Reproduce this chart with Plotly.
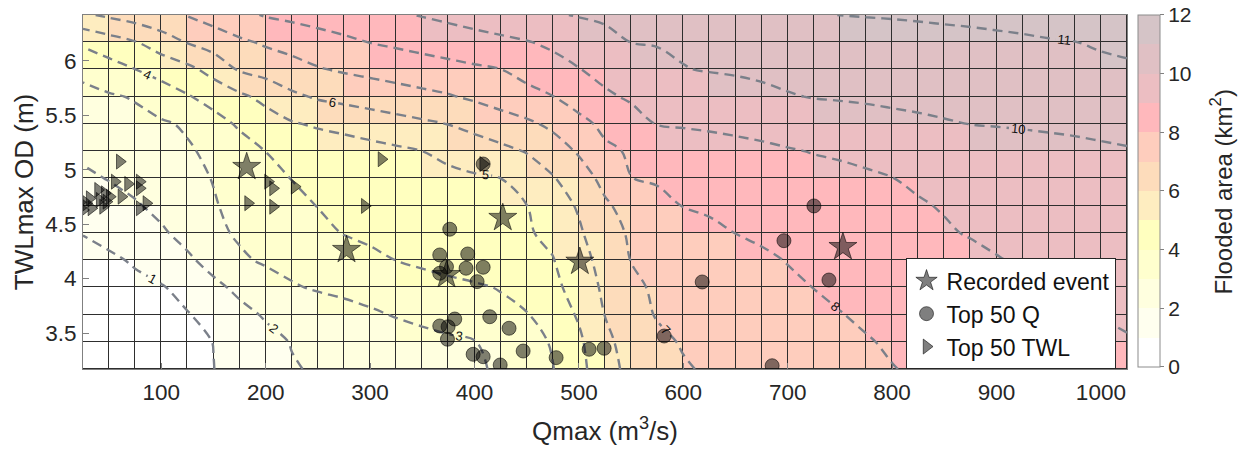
import plotly.graph_objects as go

# ---------------- data ----------------
# grid nodes (Qmax, m3/s) and (TWLmax OD, m)
q_grid = [25, 50, 75, 100, 125, 150, 175, 200, 225, 250, 275, 300, 325, 350, 375,
          400, 425, 450, 475, 500, 525, 550, 575, 600, 625, 650, 675, 700, 725, 750,
          775, 800, 825, 850, 875, 900, 925, 950, 975, 1000, 1025]
twl_grid = [3.17, 3.42, 3.67, 3.92, 4.17, 4.42, 4.67, 4.92, 5.17, 5.42, 5.67, 5.92, 6.17, 6.42]

# flooded area (km2) at the grid nodes, one list per TWL row (bottom -> top)
area_r00 = [0.15, 0.32, 0.48, 0.65, 0.82, 0.99, 1.29, 1.61, 1.93, 2.10, 2.24, 2.37, 2.50, 2.63, 2.77, 2.90, 3.10, 3.53, 3.97, 4.69, 5.67, 6.24, 6.58, 6.92, 7.10, 7.22, 7.35, 7.47, 7.60, 7.73, 7.85, 7.98, 8.07, 8.16, 8.25, 8.34, 8.43, 8.52, 8.61, 8.70, 8.79]
area_r01 = [0.20, 0.36, 0.52, 0.68, 0.84, 1.01, 1.38, 1.75, 2.04, 2.18, 2.31, 2.44, 2.57, 2.71, 2.84, 2.97, 3.30, 3.67, 4.08, 4.83, 5.80, 6.36, 6.81, 7.07, 7.20, 7.33, 7.45, 7.58, 7.71, 7.84, 7.96, 8.07, 8.17, 8.27, 8.36, 8.46, 8.56, 8.66, 8.76, 8.85, 8.95]
area_r02 = [0.25, 0.42, 0.60, 0.77, 0.95, 1.31, 1.75, 2.09, 2.28, 2.48, 2.67, 2.87, 3.06, 3.23, 3.41, 3.59, 3.77, 3.95, 4.45, 5.11, 6.02, 6.66, 7.06, 7.19, 7.32, 7.46, 7.59, 7.72, 7.85, 7.98, 8.09, 8.19, 8.30, 8.40, 8.51, 8.61, 8.71, 8.82, 8.92, 9.02, 9.10]
area_r03 = [0.35, 0.54, 0.74, 0.93, 1.31, 1.79, 2.20, 2.56, 2.91, 3.10, 3.23, 3.36, 3.49, 3.63, 3.76, 3.89, 4.05, 4.42, 4.78, 5.36, 6.20, 6.85, 7.11, 7.26, 7.41, 7.56, 7.71, 7.86, 8.01, 8.11, 8.22, 8.34, 8.45, 8.56, 8.67, 8.78, 8.89, 9.01, 9.08, 9.17, 9.25]
area_r04 = [0.55, 0.82, 1.12, 1.49, 1.85, 2.32, 2.85, 3.13, 3.30, 3.48, 3.65, 3.83, 4.01, 4.17, 4.33, 4.48, 4.64, 4.80, 4.96, 5.62, 6.37, 7.02, 7.19, 7.36, 7.53, 7.70, 7.87, 8.03, 8.15, 8.26, 8.38, 8.50, 8.62, 8.73, 8.85, 8.97, 9.06, 9.15, 9.23, 9.32, 9.40]
area_r05 = [1.05, 1.33, 1.61, 1.88, 2.29, 2.78, 3.13, 3.36, 3.59, 3.82, 4.03, 4.16, 4.28, 4.41, 4.53, 4.66, 4.79, 4.91, 5.21, 5.87, 6.62, 7.12, 7.35, 7.57, 7.80, 8.01, 8.13, 8.25, 8.36, 8.48, 8.59, 8.71, 8.82, 8.94, 9.04, 9.12, 9.21, 9.29, 9.37, 9.46, 9.54]
area_r06 = [1.43, 1.67, 1.91, 2.23, 2.58, 2.94, 3.23, 3.50, 3.77, 4.02, 4.14, 4.26, 4.38, 4.50, 4.63, 4.75, 4.87, 4.99, 5.51, 6.11, 6.87, 7.34, 7.73, 8.03, 8.14, 8.24, 8.34, 8.44, 8.54, 8.64, 8.74, 8.85, 8.95, 9.04, 9.14, 9.23, 9.32, 9.41, 9.51, 9.60, 9.69]
area_r07 = [1.83, 2.04, 2.28, 2.53, 2.78, 3.03, 3.37, 3.71, 4.02, 4.14, 4.26, 4.39, 4.51, 4.63, 4.75, 4.88, 5.00, 5.46, 5.92, 6.57, 7.26, 7.99, 8.10, 8.20, 8.30, 8.40, 8.50, 8.59, 8.69, 8.79, 8.89, 8.99, 9.09, 9.18, 9.28, 9.37, 9.46, 9.56, 9.65, 9.75, 9.84]
area_r08 = [2.18, 2.36, 2.54, 2.72, 2.90, 3.19, 3.60, 4.01, 4.17, 4.34, 4.50, 4.67, 4.83, 5.00, 5.26, 5.51, 5.77, 6.05, 6.56, 7.10, 7.82, 8.10, 8.24, 8.38, 8.51, 8.65, 8.79, 8.93, 9.04, 9.11, 9.19, 9.26, 9.34, 9.41, 9.49, 9.57, 9.64, 9.72, 9.79, 9.87, 9.94]
area_r09 = [2.48, 2.62, 2.75, 2.89, 3.11, 3.64, 4.13, 4.52, 4.91, 5.14, 5.31, 5.49, 5.66, 5.84, 6.02, 6.29, 6.56, 6.83, 7.19, 7.72, 8.22, 8.69, 9.03, 9.11, 9.19, 9.28, 9.36, 9.44, 9.53, 9.61, 9.69, 9.78, 9.86, 9.94, 10.01, 10.05, 10.09, 10.13, 10.17, 10.22, 10.26]
area_r10 = [2.78, 2.90, 3.07, 3.50, 3.92, 4.36, 4.79, 5.28, 5.81, 6.11, 6.27, 6.43, 6.60, 6.76, 6.92, 7.15, 7.42, 7.70, 7.98, 8.43, 8.88, 9.10, 9.25, 9.39, 9.53, 9.67, 9.81, 9.95, 10.03, 10.07, 10.11, 10.16, 10.20, 10.24, 10.29, 10.33, 10.38, 10.42, 10.46, 10.51, 10.55]
area_r11 = [3.20, 3.60, 3.99, 4.37, 4.75, 5.34, 6.10, 6.37, 6.65, 6.93, 7.11, 7.26, 7.40, 7.55, 7.70, 7.85, 7.99, 8.32, 8.64, 8.97, 9.23, 9.47, 9.72, 9.97, 10.05, 10.10, 10.16, 10.21, 10.26, 10.32, 10.37, 10.43, 10.48, 10.54, 10.59, 10.64, 10.70, 10.75, 10.81, 10.86, 10.91]
area_r12 = [4.18, 4.57, 4.95, 5.50, 6.05, 6.44, 6.83, 7.13, 7.35, 7.58, 7.80, 8.02, 8.17, 8.33, 8.48, 8.64, 8.79, 8.95, 9.18, 9.46, 9.73, 10.01, 10.06, 10.12, 10.18, 10.24, 10.30, 10.36, 10.42, 10.48, 10.54, 10.60, 10.65, 10.71, 10.77, 10.83, 10.89, 10.95, 10.99, 11.07, 11.13]
area_r13 = [5.85, 6.16, 6.45, 6.74, 7.04, 7.41, 7.78, 8.07, 8.23, 8.40, 8.56, 8.72, 8.88, 9.05, 9.22, 9.40, 9.57, 9.75, 9.92, 10.05, 10.15, 10.24, 10.34, 10.43, 10.53, 10.62, 10.72, 10.81, 10.91, 11.01, 11.04, 11.07, 11.11, 11.15, 11.18, 11.22, 11.25, 11.29, 11.33, 11.36, 11.40]

area_nodes = [area_r00, area_r01, area_r02, area_r03, area_r04, area_r05, area_r06,
              area_r07, area_r08, area_r09, area_r10, area_r11, area_r12, area_r13]

# recorded events (stars)
rec_q = [181.8, 427.1, 277.4, 500.9, 373.2, 752.9]
rec_twl = [5.025, 4.557, 4.263, 4.155, 4.033, 4.29]

# top 50 Q events (circles)
topq_q = [408.3, 376.3, 366.7, 393.5, 373.2, 366.7, 391.9, 408.3, 402.5, 414.6,
          381.1, 366.7, 374.7, 374.1, 433.1, 398.7, 408.3, 424.6, 446.6, 478.2,
          509.8, 524.2, 581.7, 618.1, 685.1, 696.4, 739.5, 725.1]
topq_twl = [5.052, 4.453, 4.217, 4.226, 4.109, 4.049, 4.095, 4.104, 3.972, 3.65,
            3.629, 3.565, 3.558, 3.443, 3.544, 3.305, 3.283, 3.207, 3.335, 3.274,
            3.351, 3.36, 3.473, 3.969, 3.2, 4.348, 3.987, 4.667]

# top 50 TWL events (triangles)
toptwl_q = [60.2, 55.4, 68.1, 79.3, 79.3, 61.8, 85.7, 79.3, 39.4, 45.8, 50.6, 31.4,
            41.0, 28.3, 44.2, 33.0, 25.0, 47.4, 22.0, 183.1, 207.0, 202.2, 207.0,
            227.7, 310.9, 294.9, 408.3]
toptwl_twl = [5.074, 4.89, 4.869, 4.89, 4.829, 4.752, 4.692, 4.646, 4.814, 4.783,
              4.752, 4.737, 4.722, 4.692, 4.66, 4.646, 4.63, 4.706, 4.70, 4.692,
              4.66, 4.89, 4.829, 4.844, 5.096, 4.667, 5.052]

cbar_ticks = [0, 2, 4, 6, 8, 10, 12]
x_ticks = [100, 200, 300, 400, 500, 600, 700, 800, 900, 1000]
y_ticks = [3.5, 4, 4.5, 5, 5.5, 6]

# ---------------- styling ----------------
level_colors = ["#FFFFFF", "#FFFFEF", "#FFFFDF", "#FFFFCE", "#FFFFBF", "#FEEDC0",
                "#FDDCBB", "#FECDBD", "#FFB8BC", "#ECBEC2", "#E0C0C4", "#D5C4C7"]
colorscale = []
for k, c in enumerate(level_colors):
    colorscale.append([k / 12, c])
    colorscale.append([(k + 1) / 12, c])

# each cell takes the value of its upper-left node
area_cells = [row[:-1] for row in area_nodes[1:]]

FONT = "Liberation Sans, Arial, Helvetica, sans-serif"
TXT = "#262626"
AX = "#808080"

fig = go.Figure()

fig.add_trace(go.Heatmap(
    x=q_grid, y=twl_grid, z=area_cells, zmin=0, zmax=12,
    colorscale=colorscale, xgap=1, ygap=1, hoverinfo="skip",
    showscale=True,
    colorbar=dict(
        x=1.0105, xanchor="left", xpad=0, thickness=22, thicknessmode="pixels",
        lenmode="pixels", len=352, y=0.503, yanchor="middle", ypad=0,
        tickvals=cbar_ticks, ticks="outside", ticklen=4, tickcolor=AX,
        outlinecolor="#8c8c8c", outlinewidth=1,
        tickfont=dict(size=21, color=TXT, family=FONT),
    ),
))

fig.add_trace(go.Contour(
    x=q_grid, y=twl_grid, z=area_nodes, showscale=False, hoverinfo="skip",
    showlegend=False,
    contours=dict(start=1, end=11, size=1, coloring="none", showlabels=True,
                  labelfont=dict(size=13, color="#111111", family=FONT)),
    line=dict(color="#7b808a", width=2.4, dash="10px,6px", smoothing=1),
))

mk_line = dict(color="rgba(0,0,0,0.55)", width=1)
fig.add_trace(go.Scatter(
    x=rec_q, y=rec_twl, mode="markers", name="Recorded event",
    marker=dict(symbol="star", size=21, color="rgba(0,0,0,0.5)", line=mk_line),
))
fig.add_trace(go.Scatter(
    x=topq_q, y=topq_twl, mode="markers", name="Top 50 Q",
    marker=dict(symbol="circle", size=14, color="rgba(0,0,0,0.5)", line=mk_line),
))
fig.add_trace(go.Scatter(
    x=toptwl_q, y=toptwl_twl, mode="markers", name="Top 50 TWL",
    marker=dict(symbol="triangle-right", size=13, color="rgba(0,0,0,0.5)", line=mk_line),
))

fig.update_layout(
    width=1238, height=451,
    margin=dict(l=83, r=111, t=15, b=82, autoexpand=False),
    paper_bgcolor="white", plot_bgcolor="#2e2e2e",
    font=dict(family=FONT, color=TXT, size=22),
    legend=dict(x=0.989, xanchor="right", y=0.3127, yanchor="top",
                bgcolor="white", bordercolor=TXT, borderwidth=1,
                font=dict(size=23, color="#111111", family=FONT),
                tracegroupgap=0),
    annotations=[dict(
        text="Flooded area (km<sup>2</sup>)", xref="paper", yref="paper",
        x=1.0905, y=0.5, xanchor="center", yanchor="middle", textangle=-90,
        showarrow=False, font=dict(size=24, color=TXT, family=FONT),
    )],
)
fig.update_xaxes(
    range=[25, 1025], tickvals=x_ticks, ticks="inside", ticklen=6, tickcolor=AX,
    showline=True, linecolor=AX, linewidth=1, mirror=True, showgrid=False,
    zeroline=False, tickfont=dict(size=22.5, color=TXT), ticklabelstandoff=3,
    title=dict(text="Qmax (m<sup>3</sup>/s)", font=dict(size=26, color=TXT), standoff=17),
)
fig.update_yaxes(
    range=[3.17, 6.42], tickvals=y_ticks, ticks="inside", ticklen=6, tickcolor=AX,
    showline=True, linecolor=AX, linewidth=1, mirror=True, showgrid=False,
    zeroline=False, tickfont=dict(size=22.5, color=TXT), ticklabelstandoff=1,
    title=dict(text="TWLmax OD (m)", font=dict(size=26, color=TXT), standoff=4),
)

fig.write_html("out.html", config={"displayModeBar": False},
               post_script="document.body.style.margin='0px';")
